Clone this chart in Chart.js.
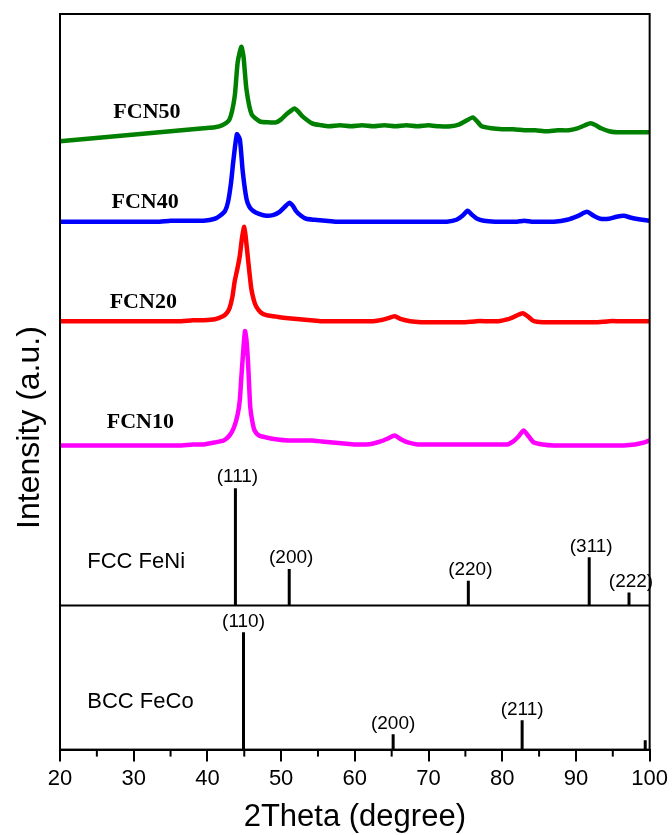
<!DOCTYPE html>
<html>
<head>
<script src="https://cdn.jsdelivr.net/npm/chart.js@4.4.0/dist/chart.umd.min.js"></script>
<title>XRD patterns</title>
<style>
  body { margin: 0; background: #fff; }
  #wrap { width: 672px; height: 835px; position: relative; }
</style>
</head>
<body>
<div id="wrap"><canvas id="chart"></canvas></div>
<script>
// measured patterns (2theta in degree, intensity in a.u. already offset)
const fcn50X = [20,21.5,23,24.5,26,27.5,29,30.5,32,33.5,35,36.5,38,39.5,41,42,43,43.7,44.1,44.6,44.9,45.3,46,47.1,48.2,49.3,50,50.7,51.4,51.8,52.3,52.9,54.2,55.5,56.5,58,59.5,61,62.5,64,65.5,67,68.5,70,71.5,73,74.2,75.2,76,76.6,77.2,78.5,80,81.5,83,84.5,86,87.5,89,90.2,91.2,92,92.7,93.4,94.5,95.5,97,98.5,100];
const fcn50Y = [612,613,614,615,616,617,618,619,620,621,622,623,624,625,626,628,634,657,691,707,697,664,639,632,631,631,634,639,643,645,642,637,630,628,627,628,627,628,627,628,627,628,627,628,627,627,629,633,636,632,627,625,624,624,623,623,622,623,623,625,628,630,628,625,622,621,621,621,621];

const fcn40X = [20,21.5,23,24.5,26,27.5,29,30.5,32,33.5,35,36.5,38,39.5,41,41.7,42.4,42.8,43.2,43.5,44,44.4,44.8,45.3,45.7,46.2,47,48,49,49.8,50.5,51.1,51.6,52,52.7,53.4,54.5,56,57.5,59,60.5,62,63.5,65,66.5,68,69.5,71,72.5,73.8,74.6,75.3,75.9,76.6,77.5,79,80.5,82,83,84,85.5,87,88.8,90.3,91.5,92.4,93.3,94.5,95.5,96.5,97.5,99,100];
const fcn40Y = [531,531,531,531,531,531,531,531,531,531,532,532,532,532,534,537,542,551,570,591,619,614,581,554,546,542,539,537,538,541,546,550,547,542,537,534,533,532,531,531,531,531,531,531,531,531,531,531,531,533,537,542,538,534,532,531,531,531,532,531,531,531,533,537,541,537,534,534,536,537,535,533,532];

const fcn20X = [20,21.5,23,24.5,26,27.5,29,30.5,32,33.5,35,36.5,38,39.5,41,42.1,42.6,43,43.4,43.7,44.1,44.4,44.7,45,45.25,45.5,45.95,46.3,46.6,47.2,48,49,49.8,51,52.5,54,55.5,57,58.5,60,61.5,62.5,63.5,64.5,65.4,66.3,67.5,69,70.5,72,73.5,75,76.5,78,79.5,80.8,81.8,82.8,83.6,84.3,85.5,87,88.5,90,91.5,93,94.5,96,97.5,99,100];
const fcn20Y = [431,431,431,431,431,431,431,431,431,431,431,431,432,432,433,436,439,444,456,471,485,497,515,526,512,494,464,452,446,440,437,436,435,434,433,432,431,431,431,431,431,431,432,434,436,433,431,430,430,430,430,430,431,431,431,433,436,439,435,431,430,430,430,430,430,430,431,431,431,431,431];

const fcn10X = [20,21.5,23,24.5,26,27.5,29,30.5,32,33.5,35,36.5,38,39.5,41,42.2,43,43.6,44.1,44.4,44.6,44.85,45.1,45.3,45.5,45.65,45.82,46.1,46.4,47,48,49.5,51,52.5,54.2,55.5,57,58.5,60,61.5,62.5,63.5,64.5,65.4,66.3,67.2,68.5,70,71.5,73,74.5,76,77.5,79,80.7,81.5,82.2,82.9,83.6,84.3,85.5,87,88.8,90.5,92,93.5,95,96.5,98,99.3,100];
const fcn10Y = [306,306,306,306,306,306,306,306,306,306,306,306,307,307,309,311,316,324,337,352,374,400,421,412,391,368,344,330,321,316,314,312,311,311,311,310,309,308,307,307,308,310,313,316,312,309,307,307,307,307,307,307,307,307,307,310,315,321,315,309,307,306,306,306,306,306,306,306,307,309,311];

const sampleNames = ['FCN50', 'FCN40', 'FCN20', 'FCN10'];
const sampleColors = ['#008000', '#0000ff', '#ff0000', '#ff00ff'];
const sampleLabelX = [31.8, 31.55, 31.3, 30.9];
const sampleLabelY = [641, 551, 450, 329];

// reference cards (relative intensity, %)
const fccPos = [43.8, 51.1, 75.4, 91.8, 97.2];
const fccInt = [100, 31, 21, 41, 11];
const fccHkl = ['(111)', '(200)', '(220)', '(311)', '(222)'];
const bccPos = [44.9, 65.2, 82.7, 99.4];
const bccInt = [100, 13, 25, 8];
const bccHkl = ['(110)', '(200)', '(211)', ''];
const fccBase = 145;
const bccBase = 0;
const stickScale = 1.18;

const phaseNames = ['FCC FeNi', 'BCC FeCo'];
const phaseLabelX = [23.7, 23.7];
const phaseLabelY = [189, 48];

const majorTicks = [20, 30, 40, 50, 60, 70, 80, 90, 100];
const minorTicks = [25, 35, 45, 55, 65, 75, 85, 95];

const sans = '"Liberation Sans", Arial, sans-serif';
const serif = '"Liberation Serif", "Times New Roman", serif';

function pts(xs, ys) {
  return xs.map((x, i) => ({x: x, y: ys[i]}));
}
function sticks(pos, inten, base) {
  const out = [];
  pos.forEach((p, i) => {
    out.push({x: p, y: base}, {x: p, y: base + inten[i] * stickScale}, {x: p, y: null});
  });
  return out;
}

const curves = [pts(fcn50X, fcn50Y), pts(fcn40X, fcn40Y), pts(fcn20X, fcn20Y), pts(fcn10X, fcn10Y)];
const datasets = curves.map((d, i) => ({
  label: sampleNames[i], data: d, borderColor: sampleColors[i],
  borderWidth: 4.5, pointRadius: 0, tension: 0.2, fill: false, borderJoinStyle: 'round'
}));
datasets.push({label: 'FCC FeNi', data: sticks(fccPos, fccInt, fccBase), borderColor: '#000', borderWidth: 3, pointRadius: 0, spanGaps: false});
datasets.push({label: 'BCC FeCo', data: sticks(bccPos, bccInt, bccBase), borderColor: '#000', borderWidth: 3, pointRadius: 0, spanGaps: false});

const annotate = {
  id: 'annotate',
  afterDatasetsDraw(chart) {
    const {ctx, chartArea: a, scales: {x, y}} = chart;
    ctx.save();
    ctx.strokeStyle = '#000';
    ctx.lineWidth = 2;
    ctx.strokeRect(a.left, a.top, a.right - a.left, a.bottom - a.top);
    const yd = y.getPixelForValue(fccBase);
    ctx.beginPath(); ctx.moveTo(a.left, yd); ctx.lineTo(a.right, yd); ctx.stroke();
    minorTicks.forEach(v => {
      const px = x.getPixelForValue(v);
      ctx.beginPath(); ctx.moveTo(px, a.bottom); ctx.lineTo(px, a.bottom + 7); ctx.stroke();
    });

    ctx.fillStyle = '#000';
    ctx.textAlign = 'center';
    ctx.textBaseline = 'middle';
    ctx.font = 'bold 22px ' + serif;
    sampleNames.forEach((n, i) => {
      ctx.fillText(n, x.getPixelForValue(sampleLabelX[i]), y.getPixelForValue(sampleLabelY[i]));
    });

    ctx.font = '19px ' + sans;
    fccPos.forEach((p, i) => {
      ctx.fillText(fccHkl[i], x.getPixelForValue(p) + 2, y.getPixelForValue(fccBase + fccInt[i] * stickScale) - 11);
    });
    bccPos.forEach((p, i) => {
      ctx.fillText(bccHkl[i], x.getPixelForValue(p), y.getPixelForValue(bccBase + bccInt[i] * stickScale) - 11);
    });

    ctx.textAlign = 'left';
    ctx.font = '22px ' + sans;
    phaseNames.forEach((n, i) => {
      ctx.fillText(n, x.getPixelForValue(phaseLabelX[i]), y.getPixelForValue(phaseLabelY[i]));
    });

    ctx.textAlign = 'center';
    ctx.font = '31px ' + sans;
    ctx.fillText('2Theta (degree)', x.getPixelForValue(60), a.bottom + 68);

    ctx.save();
    ctx.translate(a.left - 30, y.getPixelForValue(324));
    ctx.rotate(-Math.PI / 2);
    ctx.font = '32px ' + sans;
    ctx.fillText('Intensity (a.u.)', 0, 0);
    ctx.restore();
    ctx.restore();
  }
};

const chart = new Chart(document.getElementById('chart').getContext('2d'), {
  type: 'line',
  data: {datasets: datasets},
  options: {
    responsive: true,
    maintainAspectRatio: false,
    animation: false,
    layout: {padding: {left: 60, right: 20, top: 14, bottom: 39}},
    plugins: {legend: {display: false}, tooltip: {enabled: false}},
    scales: {
      x: {
        type: 'linear', min: 20, max: 100,
        afterBuildTicks: s => { s.ticks = majorTicks.map(v => ({value: v})); },
        border: {display: true, color: '#000', width: 2},
        grid: {drawOnChartArea: false, drawTicks: true, tickLength: 12, color: '#000', lineWidth: 2},
        ticks: {color: '#000', font: {family: sans, size: 22}, padding: 4, maxRotation: 0, autoSkip: false}
      },
      y: {display: false, min: 0, max: 740}
    }
  },
  plugins: [annotate]
});
</script>
</body>
</html>
